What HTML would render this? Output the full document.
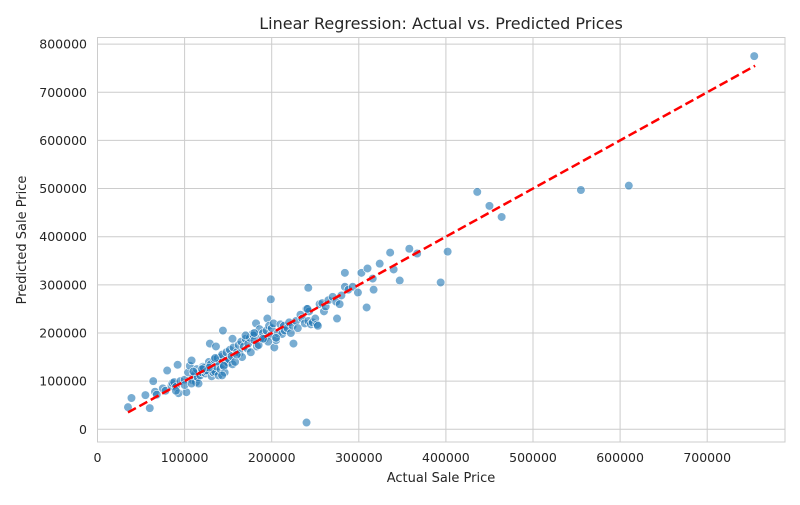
<!DOCTYPE html>
<html><head><meta charset="utf-8"><style>
body{margin:0;background:#fff;}
svg text{font-family:"DejaVu Sans","Liberation Sans",sans-serif;fill:#262626;}
</style></head><body>
<svg id="chart" width="800" height="500" xmlns="http://www.w3.org/2000/svg">
<rect width="800" height="500" fill="#fff"/>
<g id="grid"></g>
<g id="xt"></g>
<g id="yt"></g>
<g id="pts"></g>
<line id="fit" stroke="#ff0000" stroke-width="2.5" stroke-dasharray="9,4"/>
<rect x="97.5" y="37.5" width="687.5" height="404.5" fill="none" stroke="#cccccc" stroke-width="1"/>
<text x="441" y="29" text-anchor="middle" font-size="16">Linear Regression: Actual vs. Predicted Prices</text>
<text x="441" y="482" text-anchor="middle" font-size="13">Actual Sale Price</text>
<text transform="translate(26,240) rotate(-90)" text-anchor="middle" font-size="13">Predicted Sale Price</text>
</svg>
<script>
const xTicks=[0,100000,200000,300000,400000,500000,600000,700000];
const yTicks=[0,100000,200000,300000,400000,500000,600000,700000,800000];
const fitRange=[35000,755000];
const actual=[35000,39000,55000,60000,64000,66000,68000,75000,78000,80000,85000,86000,88000,90000,92000,93000,95000,100000,102000,104000,106000,108000,109000,110000,112000,113000,114000,115000,116000,118000,120000,121000,122000,124000,125000,126000,128000,129000,130000,131000,132000,133000,134000,135000,136000,137000,138000,139000,140000,141000,142000,143000,144000,145000,146000,147000,148000,150000,151000,152000,154000,155000,156000,158000,160000,162000,163000,165000,166000,168000,170000,172000,173000,175000,176000,178000,179000,180000,182000,183000,185000,186000,188000,190000,192000,194000,195000,197000,199000,200000,202000,203000,205000,207000,210000,212000,214000,215000,218000,220000,222000,224000,225000,228000,230000,233000,235000,238000,240000,242000,243000,245000,247000,250000,252000,253000,255000,258000,260000,262000,265000,270000,274000,275000,278000,280000,284000,284000,288000,293000,299000,303000,309000,310000,316000,317000,324000,336000,340000,347000,358000,367000,394000,402000,436000,450000,464000,555000,610000,754000,240000,242000,241000,199000,128000,135000,143000,100000,90000,108000,155000,180000,196000,205000,145000,120000,170000,110000,160000,190000];
const predicted=[46000,65000,71000,44000,100000,78000,72000,85000,80000,122000,90000,96000,98000,88000,134000,75000,100000,103000,77000,118000,132000,143000,102000,110000,115000,98000,125000,108000,95000,112000,118000,130000,128000,116000,120000,122000,140000,178000,135000,110000,125000,118000,145000,120000,172000,130000,148000,112000,138000,125000,150000,155000,205000,130000,118000,142000,160000,138000,145000,165000,152000,135000,170000,140000,160000,175000,158000,182000,150000,172000,188000,168000,178000,190000,160000,198000,195000,185000,220000,172000,175000,208000,190000,200000,188000,205000,230000,215000,195000,210000,220000,170000,185000,200000,218000,198000,215000,205000,210000,222000,200000,215000,178000,225000,210000,238000,230000,220000,250000,225000,245000,218000,222000,230000,218000,215000,260000,262000,245000,255000,268000,275000,265000,230000,260000,278000,325000,296000,290000,296000,284000,325000,253000,334000,313000,290000,344000,367000,332000,309000,375000,365000,305000,369000,493000,464000,441000,497000,506000,775000,14000,294000,250000,270000,128000,148000,112000,92000,80000,95000,188000,200000,182000,190000,132000,125000,195000,120000,155000,188000];
const L=97.5,R=785,T=37.5,B=442;
const x=v=>97.5+v*0.000871;
const y=v=>429.3-v*0.0004815;
const NS='http://www.w3.org/2000/svg';
function mk(tag,attrs,parent){const e=document.createElementNS(NS,tag);for(const k in attrs)e.setAttribute(k,attrs[k]);parent.appendChild(e);return e;}
const grid=document.getElementById('grid'),xt=document.getElementById('xt'),yt=document.getElementById('yt'),pts=document.getElementById('pts');
xTicks.forEach(t=>{
  const l=mk('line',{x1:x(t),x2:x(t),y1:T,y2:B,stroke:'#cccccc','stroke-width':1},grid);
  
  
  const tx=mk('text',{x:x(t),y:462,'text-anchor':'middle','font-size':'12.5'},xt);
  tx.textContent=t;
  
  
});
yTicks.forEach(t=>{
  const l=mk('line',{x1:L,x2:R,y1:y(t),y2:y(t),stroke:'#cccccc','stroke-width':1},grid);
  
  
  const tx=mk('text',{x:87,y:y(t)+4.5,'text-anchor':'end','font-size':'12.5'},yt);
  tx.textContent=t;
  
  
});
actual.forEach((a,i)=>{
  const c=mk('circle',{cx:x(a),cy:y(predicted[i]),r:4.3,fill:'#1f77b4','fill-opacity':0.6,stroke:'#ffffff','stroke-width':0.6},pts);
  
  
});
const f=document.getElementById('fit');
f.setAttribute('x1',x(fitRange[0]));f.setAttribute('y1',y(fitRange[0]));
f.setAttribute('x2',x(fitRange[1]));f.setAttribute('y2',y(fitRange[1]));
</script>
</body></html>
